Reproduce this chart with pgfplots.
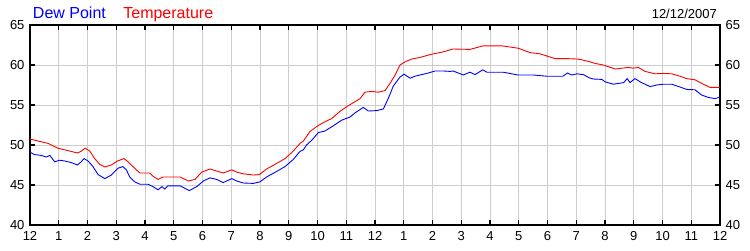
\documentclass[border=0pt]{standalone}
\usepackage{fontspec}
\setmainfont{Liberation Sans}
\usepackage{pgfplots}
\pgfplotsset{compat=1.18}
\usepackage{pgfplotstable}

\pgfplotstableread{
h v
0.00 50.75
0.28 50.5
0.63 50.2
0.97 49.6
1.32 49.3
1.65 49.0
1.77 49.2
1.92 49.6
2.08 49.25
2.25 48.3
2.42 47.6
2.60 47.25
2.83 47.5
3.04 48.0
3.27 48.3
3.41 47.9
3.64 47.1
3.82 46.5
4.16 46.5
4.28 46.1
4.45 45.7
4.63 46.0
5.09 46.0
5.22 46.0
5.51 45.5
5.74 45.7
5.97 46.6
6.26 47.0
6.49 46.75
6.72 46.5
7.02 46.9
7.19 46.6
7.42 46.4
7.77 46.25
7.98 46.3
8.23 47.0
8.58 47.7
8.87 48.3
9.16 49.25
9.39 50.2
9.51 50.5
9.74 51.7
10.03 52.45
10.26 52.9
10.49 53.3
10.78 54.2
11.02 54.8
11.25 55.3
11.48 55.8
11.65 56.6
11.88 56.7
12.11 56.6
12.35 56.8
12.52 57.7
12.70 58.75
12.87 60.0
13.05 60.4
13.28 60.75
13.57 60.95
13.97 61.35
14.32 61.6
14.72 62.0
15.30 61.95
15.77 62.4
16.41 62.4
16.98 62.1
17.39 61.55
17.74 61.4
18.26 60.8
18.67 60.8
19.02 60.75
19.13 60.7
19.48 60.4
19.65 60.2
19.94 60.0
20.35 59.5
20.58 59.6
20.81 59.7
20.98 59.6
21.16 59.7
21.39 59.2
21.74 58.9
22.03 58.95
22.32 58.9
22.61 58.6
22.84 58.3
23.13 58.15
23.42 57.6
23.65 57.2
24.00 57.2
}\temp

\pgfplotstableread{
h v
0.00 49.1
0.16 48.8
0.39 48.7
0.57 48.5
0.69 48.7
0.86 47.9
1.03 48.1
1.21 48.0
1.44 47.8
1.65 47.5
1.78 47.9
1.88 48.3
2.02 48.0
2.19 47.3
2.37 46.3
2.60 45.8
2.83 46.25
3.06 47.1
3.23 47.3
3.35 46.9
3.47 46.0
3.64 45.4
3.82 45.1
4.10 45.1
4.28 44.8
4.45 44.4
4.59 44.8
4.69 44.5
4.80 44.9
5.09 44.9
5.22 44.9
5.54 44.3
5.80 44.8
6.03 45.5
6.26 45.9
6.49 45.7
6.72 45.3
7.02 45.8
7.19 45.5
7.42 45.25
7.77 45.2
8.00 45.4
8.23 46.0
8.58 46.7
8.87 47.3
9.16 48.2
9.39 49.2
9.51 49.4
9.62 50.0
9.80 50.6
10.03 51.55
10.26 51.75
10.55 52.4
10.84 53.1
11.13 53.5
11.30 54.0
11.59 54.7
11.77 54.25
12.06 54.3
12.29 54.5
12.46 55.8
12.64 57.4
12.87 58.5
13.01 58.85
13.22 58.35
13.39 58.6
13.80 58.95
14.09 59.25
14.38 59.25
14.61 59.2
14.72 59.25
15.07 58.75
15.30 59.1
15.48 58.8
15.75 59.4
15.89 59.1
16.46 59.1
16.98 58.75
17.51 58.75
17.97 58.6
18.54 58.6
18.69 59.0
18.84 58.75
19.02 58.9
19.25 58.8
19.45 58.4
19.59 58.25
19.89 58.2
20.00 57.9
20.29 57.6
20.65 57.8
20.77 58.3
20.87 57.8
21.04 58.3
21.27 57.8
21.57 57.3
21.80 57.5
22.03 57.6
22.32 57.6
22.61 57.25
22.84 56.95
23.13 56.9
23.36 56.25
23.59 55.95
23.83 55.8
24.00 56.0
}\dew

\definecolor{gridgray}{RGB}{205,205,205}

\begin{document}
\begin{tikzpicture}
\path[use as bounding box] (-30pt,-25pt) rectangle (720pt,225pt);
\begin{axis}[
  scale only axis, width=690pt, height=200pt,
  xmin=0, xmax=24, ymin=40, ymax=65,
  xtick={0,1,...,24},
  xticklabels={12,1,2,3,4,5,6,7,8,9,10,11,12,1,2,3,4,5,6,7,8,9,10,11,12},
  ytick={40,45,...,65},
  grid=major,
  major grid style={gridgray, line width=0.9pt},
  tick align=inside, major tick length=5pt,
  axis line style={black, line width=1.1pt},
  tick style={black, line width=1.1pt},
  /pgf/number format/assume math mode=true,
  ticklabel style={font=\fontsize{13}{15}\selectfont},
  xticklabel style={yshift=-3pt},
  yticklabel style={xshift=-2pt},
  clip mode=individual,
]
\addplot[red, line width=0.9pt] table[x=h, y=v] {\temp};
\addplot[blue, line width=0.9pt] table[x=h, y=v] {\dew};
\node[anchor=base west, text=blue, font=\fontsize{16}{18}\selectfont, inner sep=0pt] at (axis description cs:0.004,1.035) {Dew Point};
\node[anchor=base west, text=red, font=\fontsize{16}{18}\selectfont, inner sep=0pt] at (axis description cs:0.135,1.035) {Temperature};
\node[anchor=base east, text=black, font=\fontsize{13}{15}\selectfont, inner sep=0pt] at (axis description cs:0.9957,1.035) {12/12/2007};
\end{axis}
\begin{axis}[
  scale only axis, width=690pt, height=200pt,
  xmin=0, xmax=24, ymin=40, ymax=65,
  hide x axis,
  axis y line*=right,
  ytick={40,45,...,65},
  axis line style={draw=none},
  tick style={draw=none},
  /pgf/number format/assume math mode=true,
  yticklabel style={font=\fontsize{13}{15}\selectfont, xshift=2pt},
]
\addplot[draw=none] coordinates {(0,40)};
\end{axis}
\end{tikzpicture}
\end{document}
